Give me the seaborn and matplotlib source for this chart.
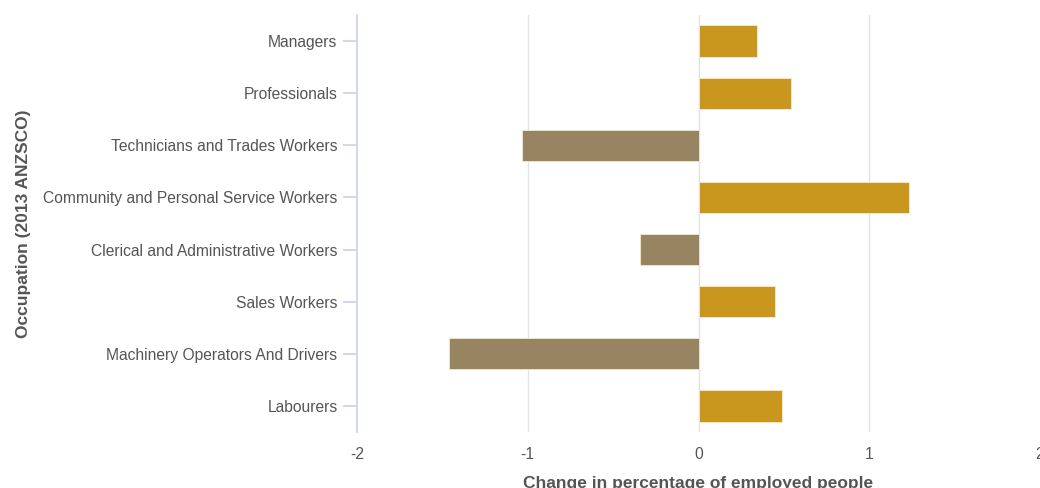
import matplotlib
matplotlib.use("Agg")
import matplotlib.pyplot as plt
import seaborn as sns
import pandas as pd

occupations = [
    "Managers",
    "Professionals",
    "Technicians and Trades Workers",
    "Community and Personal Service Workers",
    "Clerical and Administrative Workers",
    "Sales Workers",
    "Machinery Operators And Drivers",
    "Labourers",
]
changes = [0.345, 0.54, -1.035, 1.23, -0.34, 0.45, -1.46, 0.49]
x_ticks = [-2, -1, 0, 1, 2]

df = pd.DataFrame({"occupation": occupations, "change": changes})
df["sign"] = ["pos" if v >= 0 else "neg" for v in changes]

sns.set_theme(style="white")
plt.rcParams["font.family"] = ["Liberation Sans", "DejaVu Sans"]

fig = plt.figure(figsize=(10.4, 4.88), dpi=100)
ax = fig.add_axes([0.3433, 0.1148, 0.6567, 0.8545])

for xv in [-1, 0, 1]:
    ax.axvline(xv, color="#e3e3e3", lw=1, zorder=0)

sns.barplot(
    data=df, y="occupation", x="change", hue="sign",
    palette={"pos": "#C9961E", "neg": "#978562"}, saturation=1,
    order=occupations, orient="h", width=0.6, dodge=False,
    legend=False, edgecolor="#f3ead6", linewidth=0.6, ax=ax, zorder=2,
)

ax.set_xlim(-2, 2)
ax.set_ylim(7.5, -0.5)
ax.set_xticks(x_ticks)
ax.set_xticklabels([str(t) for t in x_ticks])
for s in ["top", "right", "bottom"]:
    ax.spines[s].set_visible(False)
ax.spines["left"].set_color("#c9d1ea")
ax.spines["left"].set_linewidth(1.2)
ax.tick_params(axis="y", length=10, width=1.2, color="#c9d1ea", pad=4,
               labelsize=11.25, labelcolor="#555555", left=True)
ax.tick_params(axis="x", length=0, pad=11, labelsize=11.25, labelcolor="#555555")

ax.set_xlabel("Change in percentage of employed people", fontsize=12.5,
              fontweight="bold", color="#555555", labelpad=10)
ax.set_ylabel("Occupation (2013 ANZSCO)", fontsize=12.5, fontweight="bold",
              color="#555555")
ax.yaxis.set_label_coords(-0.478, 0.5)

fig.savefig("out.png", dpi=100)
